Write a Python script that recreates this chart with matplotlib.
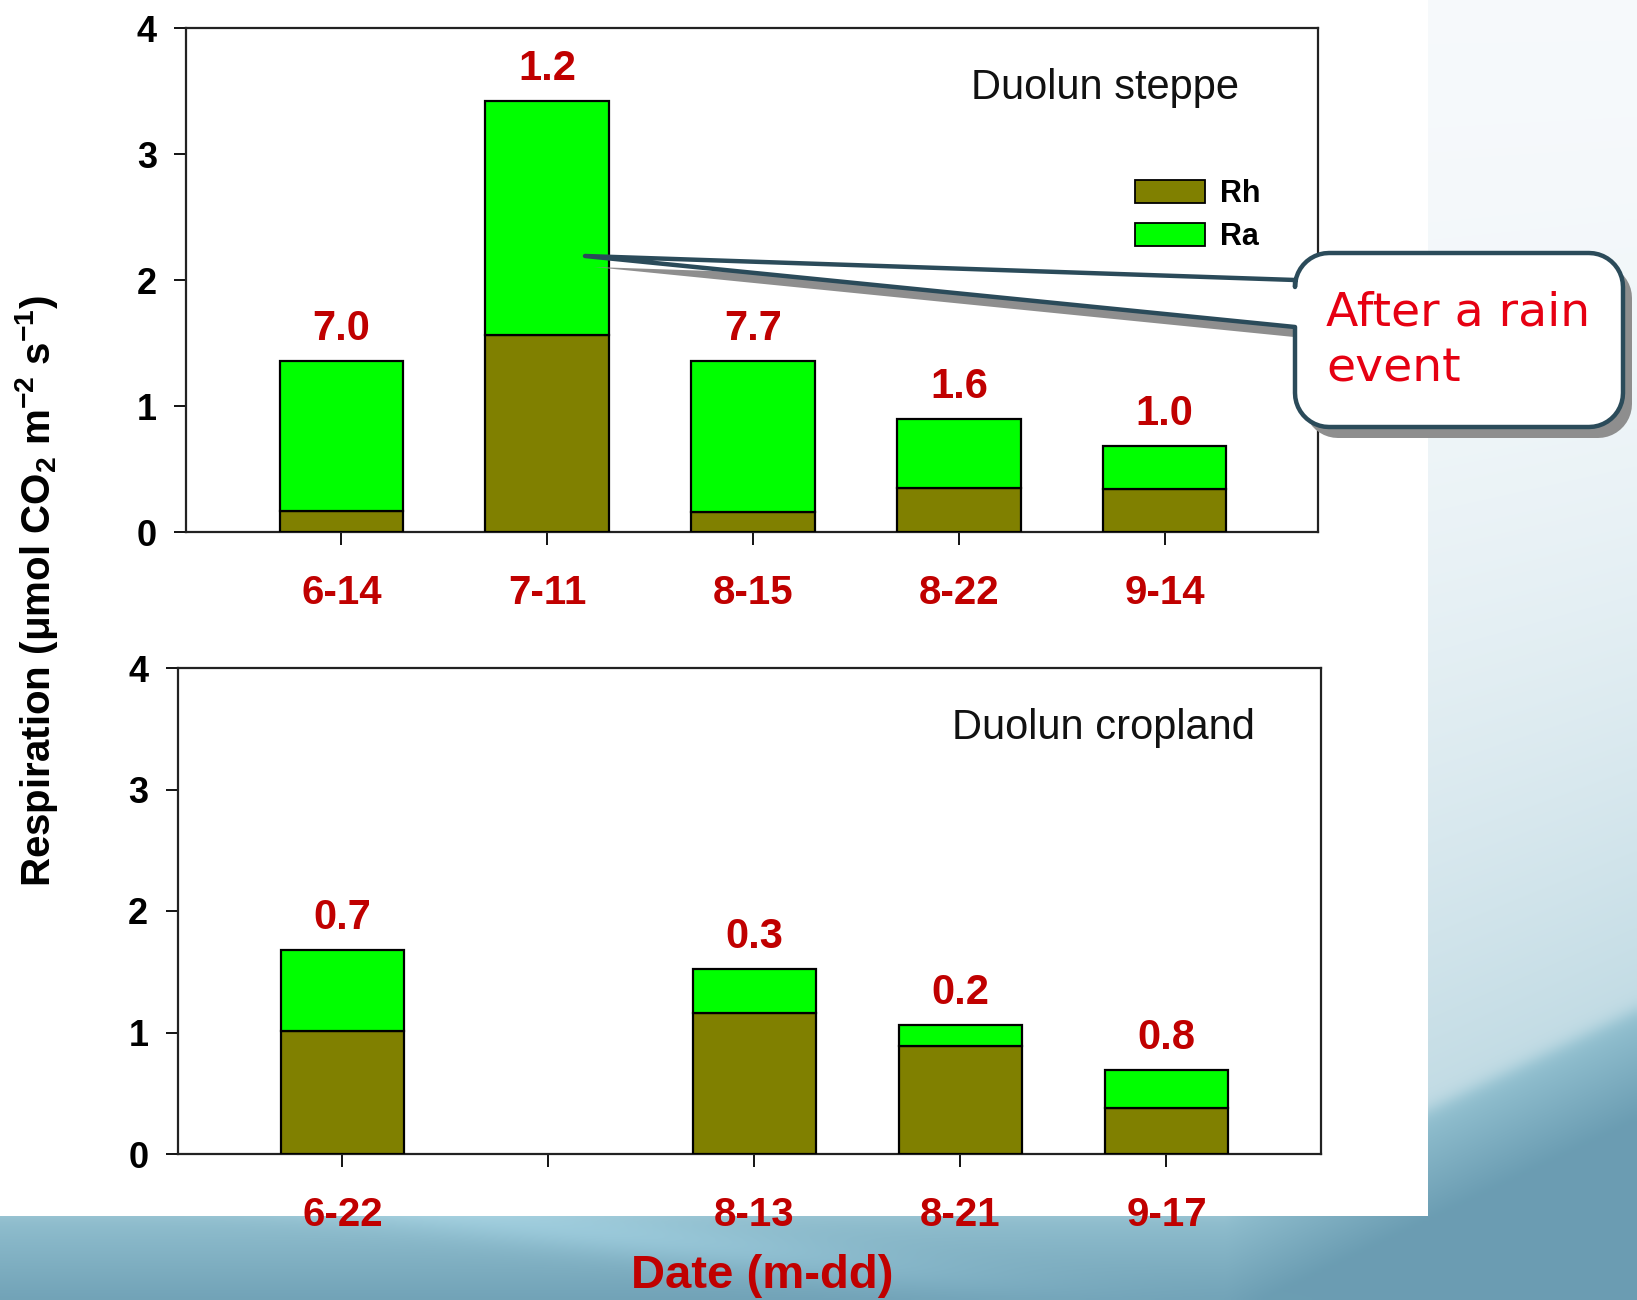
import numpy as np
import matplotlib
matplotlib.use("Agg")
import matplotlib.pyplot as plt
from matplotlib.patches import Rectangle, Polygon, Patch

# ---- data -----------------------------------------------------------------
steppe_dates = ["6-14", "7-11", "8-15", "8-22", "9-14"]
steppe_rh = [0.17, 1.56, 0.155, 0.35, 0.34]
steppe_ra = [1.19, 1.86, 1.20, 0.55, 0.34]

crop_dates = ["6-22", "", "8-13", "8-21", "9-17"]
crop_rh = [1.01, None, 1.16, 0.885, 0.38]
crop_ra = [0.67, None, 0.36, 0.18, 0.31]

y_ticks = [0, 1, 2, 3, 4]

# ---- style ----------------------------------------------------------------
RH_COLOR = "#808000"
RA_COLOR = "#00ff00"
LABEL_RED = "#c00000"
NOTE_RED = "#e60012"
EDGE = "#2b4b5a"

plt.rcParams["font.family"] = ["Liberation Sans", "DejaVu Sans"]
plt.rcParams["mathtext.fontset"] = "custom"
plt.rcParams["mathtext.rm"] = "Liberation Sans"
plt.rcParams["mathtext.bf"] = "Liberation Sans:bold"
plt.rcParams["mathtext.it"] = "Liberation Sans:italic"

W, H = 1637, 1300
fig = plt.figure(figsize=(W / 100, H / 100), dpi=100)

# ---- slide background: pale-to-teal gradient with a white content area ----
Y, X = np.mgrid[0:H:4, 0:W:4].astype(float)
c_top = np.array([0.965, 0.978, 0.986])
c_mid = np.array([0.76, 0.86, 0.895])
c_wave = np.array([0.58, 0.76, 0.82])
c_deep = np.array([0.42, 0.615, 0.70])
yb = np.minimum(1107 - 0.48 * (X - 1430), 1205)
ta = np.clip(Y / yb, 0, 1)[..., None] ** 2
upper = c_top * (1 - ta) + c_mid * ta
sb = np.clip((Y - yb) / 110, 0, 1)[..., None]
lower = c_wave * (1 - sb) + c_deep * sb
blend = (1 / (1 + np.exp(-(Y - yb) / 5)))[..., None]
img = upper * (1 - blend) + lower * blend
streak = np.exp(-((Y - (1232 + 0.12 * (X - 600))) / 22) ** 2) * np.exp(-((X - 600) / 380) ** 2)
img = np.clip(img + 0.06 * streak[..., None], 0, 1)

bg = fig.add_axes([0, 0, 1, 1], zorder=-10)
bg.imshow(img, extent=[0, W, H, 0], aspect="auto", interpolation="bilinear")
bg.add_patch(Rectangle((0, 0), 1428, 1216, facecolor="white", edgecolor="none"))
bg.set_xlim(0, W)
bg.set_ylim(H, 0)
bg.axis("off")


def px_axes(left, top, right, bottom):
    return fig.add_axes([left / W, 1 - bottom / H, (right - left) / W, (bottom - top) / H])


def draw_panel(ax, dates, rh, ra, title, xlim, title_xy):
    pos = np.arange(1, len(dates) + 1)
    keep = [i for i, v in enumerate(rh) if v is not None]
    xs = pos[keep]
    rh_v = np.array([rh[i] for i in keep])
    ra_v = np.array([ra[i] for i in keep])
    ax.bar(xs, rh_v, width=0.6, color=RH_COLOR, edgecolor="black", linewidth=1.6,
           label="Rh", zorder=3)
    ax.bar(xs, ra_v, bottom=rh_v, width=0.6, color=RA_COLOR, edgecolor="black",
           linewidth=1.6, label="Ra", zorder=3)
    for x, h, a in zip(xs, rh_v, ra_v):
        ax.annotate(f"{a / h:.1f}", (x, h + a), xytext=(0, 23), textcoords="offset points",
                    ha="center", va="center", fontsize=30, fontweight="bold",
                    color=LABEL_RED)
    ax.set_xlim(*xlim)
    ax.set_ylim(0, 4)
    ax.set_xticks(pos)
    ax.set_xticklabels(dates)
    ax.set_yticks(y_ticks)
    ax.tick_params(axis="x", length=9, width=1.3, pad=21, labelsize=29,
                   labelcolor=LABEL_RED, direction="out")
    ax.tick_params(axis="y", length=9, width=1.3, pad=12, labelsize=26,
                   direction="out")
    for lbl in ax.get_xticklabels() + ax.get_yticklabels():
        lbl.set_fontweight("bold")
    for sp in ax.spines.values():
        sp.set_linewidth(1.6)
        sp.set_color("#222222")
    ax.text(title_xy[0], title_xy[1], title, transform=ax.transAxes, ha="center",
            va="center", fontsize=30, color="#111111")


ax1 = px_axes(186, 28, 1318, 532)
draw_panel(ax1, steppe_dates, steppe_rh, steppe_ra, "Duolun steppe",
           (0.245, 5.745), (0.812, 0.880))
ax1.legend(handles=[Patch(facecolor=RH_COLOR, edgecolor="black", linewidth=1.3, label="Rh"),
                    Patch(facecolor=RA_COLOR, edgecolor="black", linewidth=1.3, label="Ra")],
           loc="upper left", bbox_to_anchor=(0.838, 0.70), frameon=False,
           prop={"weight": "bold", "size": 22}, handlelength=2.3, handleheight=0.75,
           handletextpad=0.5, labelspacing=0.42, borderpad=0, borderaxespad=0)

ax2 = px_axes(177.5, 668, 1321, 1154)
draw_panel(ax2, crop_dates, crop_rh, crop_ra, "Duolun cropland",
           (0.2, 5.75), (0.810, 0.877))

fig.text(36.5 / W, 1 - 591 / H,
         r"Respiration (μmol CO$_\mathbf{2}$ m$^\mathbf{-2}$ s$^\mathbf{-1}$)",
         rotation=90, ha="center", va="center", fontsize=29, fontweight="bold")
fig.text(762 / W, 1 - 1276 / H, "Date (m-dd)", ha="center", va="center",
         fontsize=34, fontweight="bold", color=LABEL_RED)

# ---- callout note pointing at the 7-11 bar ---------------------------------
ov = fig.add_axes([0, 0, 1, 1], zorder=10)
ov.set_xlim(0, W)
ov.set_ylim(H, 0)
ov.axis("off")
ov.patch.set_alpha(0)


def callout_points(x0, y0, x1, y1, r, tip, wy0, wy1):
    def arc(cx, cy, a0, a1):
        t = np.radians(np.linspace(a0, a1, 12))
        return list(zip(cx + r * np.cos(t), cy + r * np.sin(t)))
    pts = []
    pts += arc(x1 - r, y0 + r, -90, 0)
    pts += arc(x1 - r, y1 - r, 0, 90)
    pts += arc(x0 + r, y1 - r, 90, 180)
    pts += [(x0, wy1), tip, (x0, wy0)]
    pts += arc(x0 + r, y0 + r, 180, 270)
    return np.array(pts)


pts = callout_points(1295, 253, 1623, 427, 34, (585, 256), 280, 327)
ov.add_patch(Polygon(pts + np.array([9, 11]), closed=True, facecolor="#8e8e8e",
                     edgecolor="none"))
ov.add_patch(Polygon(pts, closed=True, facecolor="white", edgecolor=EDGE,
                     linewidth=3.2, joinstyle="round"))
ov.text(1326, 341, "After a rain\nevent", ha="left", va="center", fontsize=34,
        color=NOTE_RED, family="DejaVu Sans", linespacing=1.3)

fig.savefig("out.png", dpi=100)
